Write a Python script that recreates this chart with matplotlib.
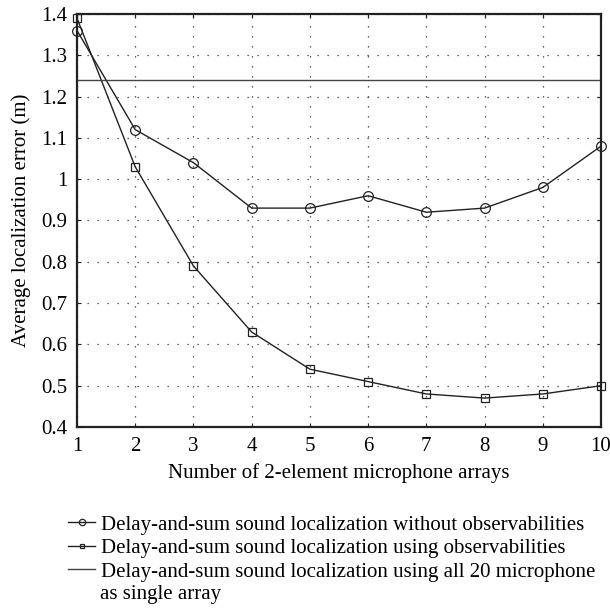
import matplotlib
matplotlib.use("Agg")
import matplotlib.pyplot as plt
from matplotlib.ticker import MultipleLocator

plt.rcParams['font.family'] = ['Liberation Serif', 'DejaVu Serif']

num_arrays = [1, 2, 3, 4, 5, 6, 7, 8, 9, 10]
without_obs = [1.36, 1.12, 1.04, 0.93, 0.93, 0.96, 0.92, 0.93, 0.98, 1.08]
using_obs = [1.39, 1.03, 0.79, 0.63, 0.54, 0.51, 0.48, 0.47, 0.48, 0.50]
single_array = 1.24

labels = [
    "Delay-and-sum sound localization without observabilities",
    "Delay-and-sum sound localization using observabilities",
    "Delay-and-sum sound localization using all 20 microphone",
]
extra_line = "as single array"

FS = 15

fig = plt.figure(figsize=(6.10, 6.09), dpi=100)
ax = fig.add_axes([77/610, 1-427/609, (601-77)/610, (427-14)/609])

l1, = ax.plot(num_arrays, without_obs, color='#222222', lw=1.0, marker='o',
              markersize=7, markerfacecolor='none', markeredgewidth=0.9, clip_on=False)
l2, = ax.plot(num_arrays, using_obs, color='#222222', lw=1.0, marker='s',
              markersize=5.2, markerfacecolor='none', markeredgewidth=0.9, clip_on=False)
l3 = ax.axhline(single_array, color='#444444', lw=1.0)

ax.set_xlim(1, 10)
ax.set_ylim(0.4, 1.4)
ax.xaxis.set_major_locator(MultipleLocator(1))
ax.yaxis.set_major_locator(MultipleLocator(0.1))
ax.yaxis.set_major_formatter(plt.FuncFormatter(lambda v, p: '1' if abs(v-1) < 1e-9 else '%.1f' % v))
ax.grid(True, color='#333333', linestyle=(0, (1, 7)), lw=0.9)
ax.tick_params(direction='in', top=True, right=True, labelsize=FS, length=3, color='#222222', pad=7)
for s in ax.spines.values():
    s.set_linewidth(1.6)
    s.set_color('#222222')

ax.set_xlabel("Number of 2-element microphone arrays", fontsize=FS, labelpad=5)
ax.set_ylabel("Average localization error (m)", fontsize=FS, labelpad=7)

leg = fig.legend([l1, l2, l3], labels, loc='upper left', bbox_to_anchor=(68/610, 1-515/609),
                 frameon=False, fontsize=FS, handlelength=1.3, handletextpad=0.3,
                 labelspacing=0.19, borderaxespad=0, borderpad=0, markerscale=0.65)
fig.text(100/610, 1-594/609, extra_line, fontsize=FS, va='center', ha='left')

fig.savefig("out.png", dpi=100)
